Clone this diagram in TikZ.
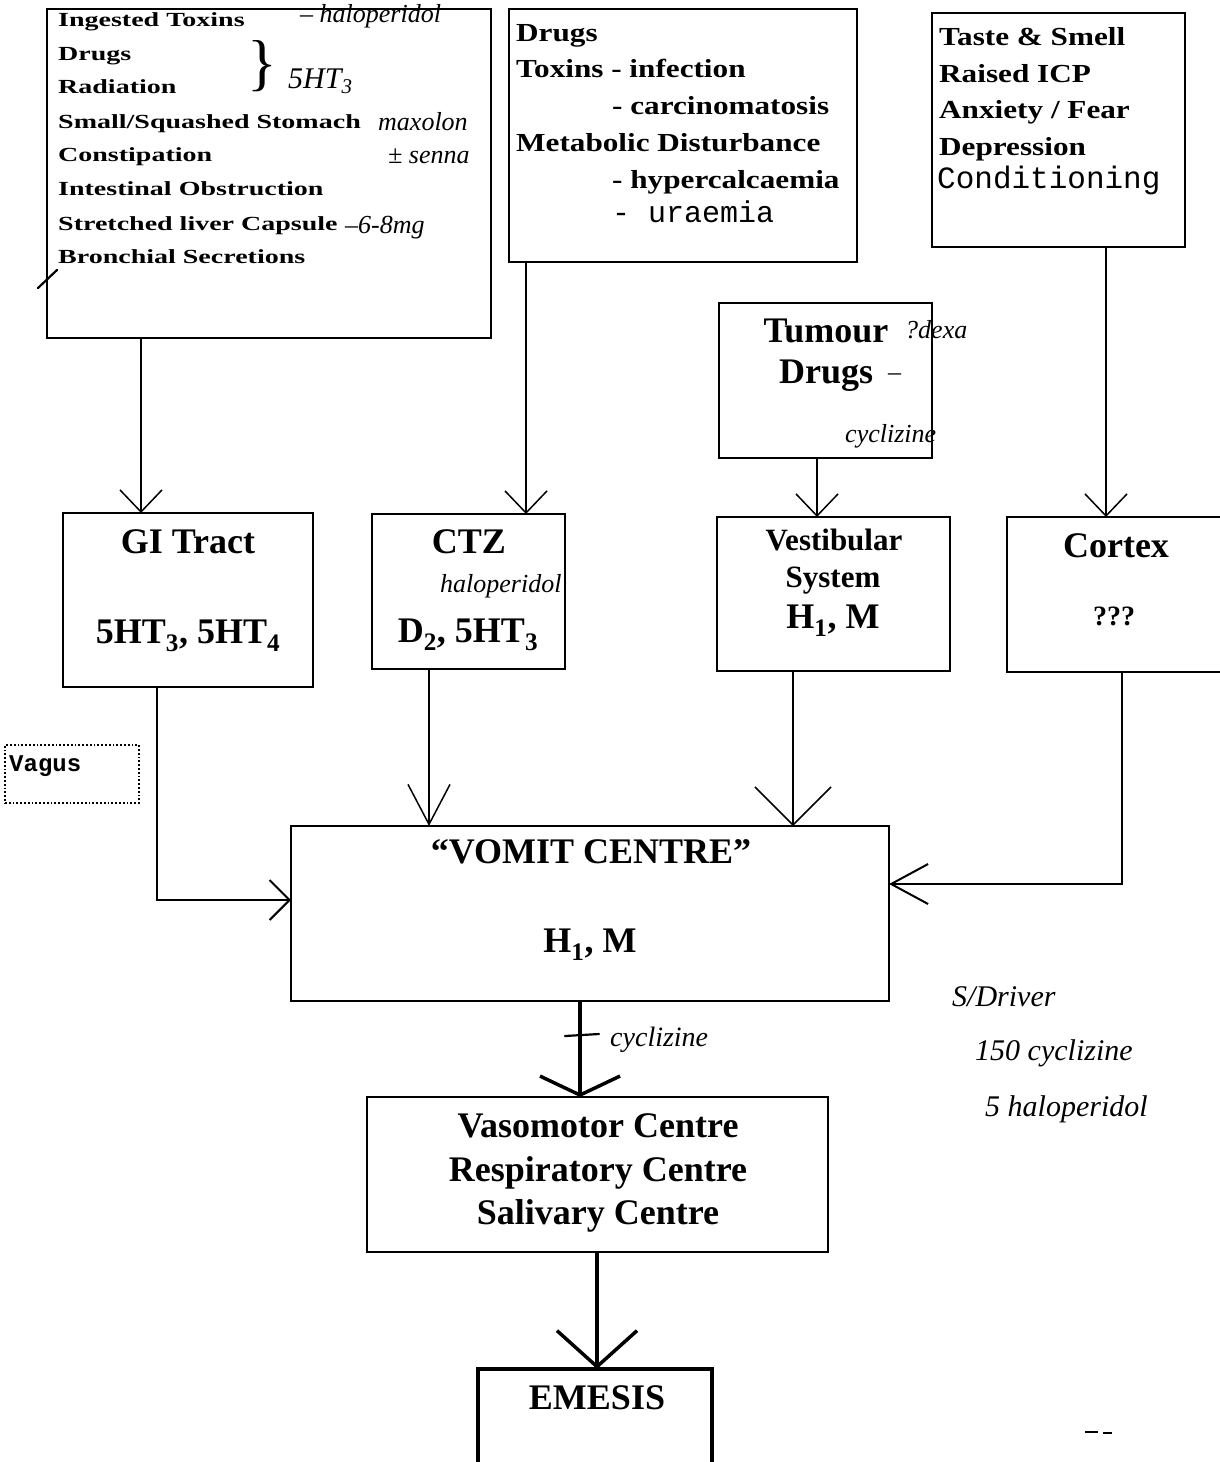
\documentclass[tikz,border=0pt]{standalone}
\usepackage{fontspec}
\setmainfont{Liberation Serif}
\newfontfamily\fa[FakeStretch=1.4]{Liberation Serif}
\newfontfamily\fb[FakeStretch=1.2]{Liberation Serif}
\newfontfamily\fm{Liberation Mono}
\newfontfamily\fh{Liberation Serif}
\usetikzlibrary{arrows.meta}
\tikzset{
  box/.style={draw, line width=1.8pt, inner sep=0pt, outer sep=0pt, anchor=north west},
  lbl/.style={inner sep=0pt, anchor=base, font=\fontsize{36pt}{40pt}\selectfont\bfseries},
  ltl/.style={inner sep=0pt, anchor=base west, font=\fa\fontsize{20pt}{24pt}\selectfont\bfseries},
  ltb/.style={inner sep=0pt, anchor=base west, font=\fb\fontsize{26pt}{30pt}\selectfont\bfseries},
  mono/.style={inner sep=0pt, anchor=base west, font=\fm\fontsize{30pt}{34pt}\selectfont},
  hand/.style={inner sep=0pt, anchor=base west, font=\fh\itshape\fontsize{26pt}{30pt}\selectfont},
  hl/.style={line width=2.2pt, line cap=round},
  conn/.style={line width=1.5pt},
  heavy/.style={line width=3.5pt},
  tipA/.style={-{Straight Barb[length=22pt,width=42pt]}},
}
\begin{document}
\begin{tikzpicture}[x=1pt,y=-1pt]
\useasboundingbox (0,0) rectangle (1219,1462);
% ---------- boxes
\node[box, minimum width=444pt, minimum height=329pt] (tl) at (47,9) {};
\node[box, minimum width=348pt, minimum height=253pt] (dr) at (509,9) {};
\node[box, minimum width=253pt, minimum height=234pt] (ts) at (932,13) {};
\node[box, minimum width=213pt, minimum height=155pt] (tu) at (719,303) {};
\node[box, minimum width=250pt, minimum height=174pt] (gi) at (63,513) {};
\node[box, minimum width=193pt, minimum height=155pt] (ctz) at (372,514) {};
\node[box, minimum width=233pt, minimum height=154pt] (ves) at (717,517) {};
\node[box, minimum width=225pt, minimum height=155pt] (cor) at (1007,517) {};
\node[box, minimum width=598pt, minimum height=175pt] (vc) at (291,826) {};
\node[box, minimum width=461pt, minimum height=155pt] (vm) at (367,1097) {};
\node[box, line width=4pt, minimum width=234pt, minimum height=130pt] (em) at (478,1369) {};
\node[box, dotted, line width=1.2pt, minimum width=134pt, minimum height=58pt] (vagus) at (5,745) {};
% ---------- texts
\node[ltl] (tl1) at (58,26) {Ingested Toxins};
\node[ltl] (tl2) at (58,60) {Drugs};
\node[ltl] (tl3) at (58,93) {Radiation};
\node[ltl] (tl4) at (58,128) {Small/Squashed Stomach};
\node[ltl] (tl5) at (58,161) {Constipation};
\node[ltl] (tl6) at (58,195) {Intestinal Obstruction};
\node[ltl] (tl7) at (58,230) {Stretched liver Capsule};
\node[ltl] (tl8) at (58,263) {Bronchial Secretions};

\node[ltb] (dr1) at (516,41) {Drugs};
\node[ltb] (dr2) at (516,77) {Toxins - infection};
\node[ltb] (dr3) at (612,114) {- carcinomatosis};
\node[ltb] (dr4) at (516,151) {Metabolic Disturbance};
\node[ltb] (dr5) at (612,188) {- hypercalcaemia};
\node[mono] (dr6) at (612,222) {- uraemia};

\node[ltb] (ts1) at (939,45) {Taste \& Smell};
\node[ltb] (ts2) at (939,82) {Raised ICP};
\node[ltb] (ts3) at (939,118) {Anxiety / Fear};
\node[ltb] (ts4) at (939,155) {Depression};
\node[mono, font=\fm\fontsize{31pt}{34pt}\selectfont] (ts5) at (937,188) {Conditioning};

\node[lbl] (tu1) at (826,342) {Tumour};
\node[lbl, anchor=base west] (tu2) at (779,383) {Drugs};

\node[lbl] (gi1) at (188,553) {GI Tract};
\node[lbl] (gi2) at (188,643) {5HT\textsubscript{3}, 5HT\textsubscript{4}};
\node[lbl] (ctz1) at (469,553) {CTZ};
\node[lbl] (ctz2) at (468,642) {D\textsubscript{2}, 5HT\textsubscript{3}};
\node[lbl, font=\fontsize{31pt}{34pt}\selectfont\bfseries] (ves1) at (834,550) {Vestibular};
\node[lbl, font=\fontsize{31pt}{34pt}\selectfont\bfseries] (ves2) at (833,587) {System};
\node[lbl] (ves3) at (833,628) {H\textsubscript{1}, M};
\node[lbl] (cor1) at (1116,557) {Cortex};
\node[lbl, font=\fontsize{28pt}{30pt}\selectfont\bfseries] (cor2) at (1114,625) {???};
\node[lbl] (vc1) at (591,863) {“VOMIT CENTRE”};
\node[lbl] (vc2) at (590,952) {H\textsubscript{1}, M};
\node[lbl] (vm1) at (598,1137) {Vasomotor Centre};
\node[lbl] (vm2) at (598,1181) {Respiratory Centre};
\node[lbl] (vm3) at (598,1224) {Salivary Centre};
\node[lbl] (em1) at (597,1409) {EMESIS};
\node[inner sep=0pt, anchor=base west, font=\fm\bfseries\fontsize{24pt}{28pt}\selectfont] (vag) at (9,771) {Vagus};
% ---------- connectors
\coordinate (x1) at (141,0);
\coordinate (x2) at (526,0);
\coordinate (x3) at (817,0);
\coordinate (x4) at (1106,0);
\coordinate (x5) at (580,0);
\coordinate (x6) at (597,0);
\coordinate (x7) at (429,0);
\coordinate (x8) at (793,0);
\coordinate (k1) at (157,900);
\coordinate (k2) at (1122,884);
\draw[conn, tipA] (tl.south -| x1) -- (gi.north -| x1);
\draw[conn, tipA] (dr.south -| x2) -- (ctz.north -| x2);
\draw[conn, tipA] (tu.south -| x3) -- (ves.north -| x3);
\draw[conn, tipA] (ts.south -| x4) -- (cor.north -| x4);
\draw[conn, -{Straight Barb[length=40pt,width=42pt]}] (ctz.south -| x7) -- (vc.north -| x7);
\draw[conn, -{Straight Barb[length=38pt,width=76pt]}] (ves.south -| x8) -- (vc.north -| x8);
\draw[line width=2pt, -{Straight Barb[length=20pt,width=40pt]}] (gi.south -| k1) -- (k1) -- (vc.west |- k1);
\draw[line width=2pt, -{Straight Barb[length=37pt,width=40pt]}] (cor.south -| k2) -- (k2) -- (vc.east |- k2);
\draw[heavy, -{Straight Barb[length=19pt,width=80pt]}] (vc.south -| x5) -- (vm.north -| x5);
\draw[heavy, -{Straight Barb[length=36pt,width=80pt]}] (vm.south -| x6) -- (em.north -| x6);
% ---------- handwriting
\node[hand] (h1) at (300,22) {– haloperidol};
\node[inner sep=0pt, font=\fh\fontsize{62pt}{64pt}\selectfont] (hb) at (262,66) {\}};
\node[hand, font=\fh\itshape\fontsize{30pt}{32pt}\selectfont] (h2) at (288,88) {5HT\textsubscript{3}};
\node[hand] (h3) at (378,130) {maxolon};
\node[hand] (h4) at (388,163) {± senna};
\node[hand] (h5) at (345,233) {–6-8mg};
\draw[hl] (38,288) -- (57,270);
\node[hand] (h6) at (905,338) {?dexa};
\node[hand] (h7) at (888,380) {–};
\node[hand] (h8) at (845,442) {cyclizine};
\node[hand] (h9) at (440,592) {haloperidol};
\draw[hl] (565,1036) -- (599,1034);
\node[hand, font=\fh\itshape\fontsize{28pt}{30pt}\selectfont] (h10) at (610,1046) {cyclizine};
\node[hand, font=\fh\itshape\fontsize{30pt}{32pt}\selectfont] (h11) at (952,1006) {S/Driver};
\node[hand, font=\fh\itshape\fontsize{30pt}{32pt}\selectfont] (h12) at (975,1060) {150 cyclizine};
\node[hand, font=\fh\itshape\fontsize{30pt}{32pt}\selectfont] (h13) at (985,1116) {5 haloperidol};
\draw[line width=2pt] (1085,1432) -- (1098,1432) (1103,1433) -- (1112,1433);
\end{tikzpicture}
\end{document}
